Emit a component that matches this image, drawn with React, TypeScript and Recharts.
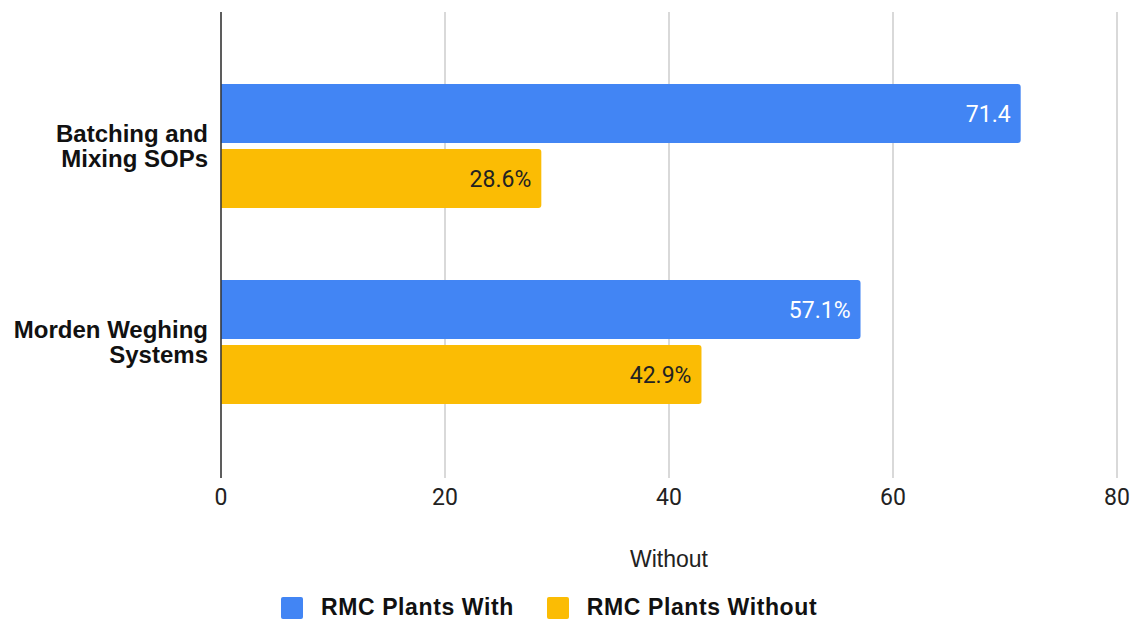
import React from 'react';
import {
  BarChart,
  Bar,
  XAxis,
  YAxis,
  CartesianGrid,
  Legend,
  LabelList,
} from 'recharts';

// Survey categories (y axis) and the two plant groups
const categories = ['Batching and Mixing SOPs', 'Morden Weghing Systems'];
const categoryLines = [
  ['Batching and', 'Mixing SOPs'],
  ['Morden Weghing', 'Systems'],
];
const withValues = [71.4, 57.1];
const withSuffix = ['', '%'];
const withoutValues = [28.6, 42.9];
const withoutSuffix = ['%', '%'];
const xTicks = [0, 20, 40, 60, 80];

const SERIES = [
  { key: 'with', name: 'RMC Plants With', color: '#4285F4' },
  { key: 'without', name: 'RMC Plants Without', color: '#FBBC04' },
];

const data = categories.map((name, i) => ({
  name,
  with: withValues[i],
  withLabel: `${withValues[i]}${withSuffix[i]}`,
  without: withoutValues[i],
  withoutLabel: `${withoutValues[i]}${withoutSuffix[i]}`,
}));

const CategoryTick = (props: any) => {
  const { x, y, payload, index } = props;
  const lines: string[] = categoryLines[index] ?? [payload.value];
  const right = x - 5;
  return (
    <text
      x={right}
      y={y}
      textAnchor="end"
      fontFamily="'Liberation Sans', Arial, sans-serif"
      fontWeight="bold"
      fontSize={24}
      fill="#111"
    >
      {lines.map((line, i) => (
        <tspan key={i} x={right} y={y + (i - (lines.length - 1) / 2) * 25} dy="0.35em">
          {line}
        </tspan>
      ))}
    </text>
  );
};

const LegendContent = () => (
  <div
    style={{
      display: 'flex',
      alignItems: 'flex-start',
      height: 44,
      paddingTop: 20,
      paddingLeft: 281,
      boxSizing: 'border-box',
      fontFamily: "'Liberation Sans', Arial, sans-serif",
      fontWeight: 'bold',
      fontSize: 23,
      color: '#111',
    }}
  >
    {SERIES.map((s, i) => (
      <div key={s.key} style={{ display: 'flex', alignItems: 'flex-start', marginRight: i === 0 ? 33 : 0 }}>
        <div style={{ width: 22, height: 22, marginTop: 2, background: s.color, borderRadius: 2, marginRight: 18 }} />
        <span style={{ lineHeight: '24px', letterSpacing: 0.6 }}>{s.name}</span>
      </div>
    ))}
  </div>
);

export default function App() {
  return (
    <div style={{ position: 'absolute', left: 0, top: 0, width: 1137, height: 619, background: '#fff', overflow: 'hidden' }}>
      <BarChart
        width={1137}
        height={619}
        data={data}
        layout="vertical"
        margin={{ top: 12, right: 20, left: 0, bottom: 0 }}
        barSize={59}
        barGap={6}
      >
        <CartesianGrid horizontal={false} stroke="#cccccc" strokeWidth={1.5} />
        <XAxis
          type="number"
          domain={[0, 80]}
          ticks={xTicks}
          axisLine={false}
          tickLine={false}
          tickMargin={5}
          height={97}
          tick={{ fontFamily: 'Roboto, sans-serif', fontSize: 23, fill: '#222' }}
          label={{
            value: 'Without',
            position: 'insideBottom',
            offset: 8,
            fontFamily: "'Liberation Sans', Arial, sans-serif",
            fontSize: 23,
            fill: '#222',
          }}
        />
        <YAxis
          type="category"
          dataKey="name"
          width={221}
          padding={{ top: 36, bottom: 38 }}
          tickLine={false}
          axisLine={{ stroke: '#333', strokeWidth: 1.5 }}
          tick={<CategoryTick />}
          interval={0}
        />
        <Legend verticalAlign="bottom" height={44} wrapperStyle={{ left: 0, width: 1137 }} content={<LegendContent />} />
        <Bar dataKey="with" name="RMC Plants With" fill="#4285F4" radius={[0, 3, 3, 0]} isAnimationActive={false}>
          <LabelList
            dataKey="withLabel"
            position="insideRight"
            offset={10}
            fill="#fff"
            fontFamily="Roboto, sans-serif"
            fontSize={23}
          />
        </Bar>
        <Bar dataKey="without" name="RMC Plants Without" fill="#FBBC04" radius={[0, 3, 3, 0]} isAnimationActive={false}>
          <LabelList
            dataKey="withoutLabel"
            position="insideRight"
            offset={10}
            fill="#222"
            fontFamily="Roboto, sans-serif"
            fontSize={23}
          />
        </Bar>
      </BarChart>
    </div>
  );
}
